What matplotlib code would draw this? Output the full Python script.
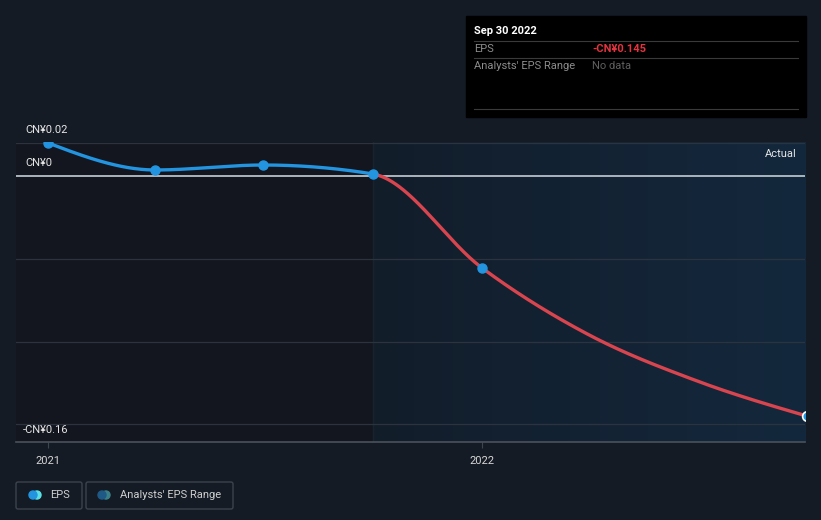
import matplotlib.pyplot as plt
import matplotlib.patches as mpatches
import numpy as np
from matplotlib.colors import LinearSegmentedColormap

plt.rcParams['font.family'] = ['Roboto', 'DejaVu Sans']

# quarter ends as decimal years
fechas = [2021.0, 2021.247, 2021.496, 2021.748, 2022.0, 2022.247, 2022.496, 2022.748]
eps = [0.0199, 0.0036, 0.0066, 0.0012, -0.0556, -0.0961, -0.1239, -0.145]
con_marcador = [True, True, True, True, True, False, False, True]
fecha_hoy = 2021.748
anios = [2021, 2022]
etiquetas_anio = ["2021", "2022"]

W, H = 821, 520
fondo = "#151b25"
azul = "#2394df"
rojo = "#d8454f"


def curva_monotona(x, y, xs):
    # curva suave tipo monotoneX
    x = np.asarray(x, float); y = np.asarray(y, float)
    n = len(x)
    h = np.diff(x)
    s = np.diff(y) / h
    m = np.zeros(n)
    for i in range(1, n - 1):
        p = (s[i - 1] * h[i] + s[i] * h[i - 1]) / (h[i - 1] + h[i])
        m[i] = (np.sign(s[i - 1]) + np.sign(s[i])) * min(abs(s[i - 1]), abs(s[i]), 0.5 * abs(p))
    m[0] = (3 * s[0] - m[1]) / 2
    m[-1] = (3 * s[-1] - m[-2]) / 2
    ys = np.empty_like(xs)
    for k, xv in enumerate(xs):
        i = int(np.clip(np.searchsorted(x, xv, side="right") - 1, 0, n - 2))
        t = (xv - x[i]) / h[i]
        h00 = 2 * t**3 - 3 * t**2 + 1
        h10 = t**3 - 2 * t**2 + t
        h01 = -2 * t**3 + 3 * t**2
        h11 = t**3 - t**2
        ys[k] = h00 * y[i] + h10 * h[i] * m[i] + h01 * y[i + 1] + h11 * h[i] * m[i + 1]
    return ys


fig = plt.figure(figsize=(W / 100, H / 100), dpi=100, facecolor=fondo)

x0, x1 = 16, 805
y0, y1 = 142, 442
ax = fig.add_axes([x0 / W, 1 - y1 / H, (x1 - x0) / W, (y1 - y0) / H])
ax.set_facecolor("#13161e")
xmin, xmax = 2020.926, 2022.744
ymin, ymax = -0.1607, 0.0205
ax.set_xlim(xmin, xmax)
ax.set_ylim(ymin, ymax)

# zona de "Actual" con degradado
grad = np.linspace(0, 1, 200).reshape(1, -1)
cmap = LinearSegmentedColormap.from_list("zona", ["#121d2a", "#14283d"])
ax.imshow(grad, extent=[fecha_hoy, xmax, ymin, ymax], aspect="auto", cmap=cmap, zorder=0)
ax.axvline(fecha_hoy, color="#18232f", lw=1, zorder=1)

for g in [0.02, -0.05, -0.10, -0.15]:
    ax.axhline(g, color="#2b333e", lw=0.9, zorder=1)
ax.axhline(0, color="#b8c0c8", lw=1.3, zorder=2)

xs = np.linspace(fechas[0], fechas[-1], 800)
ys = curva_monotona(fechas, eps, xs)
pasado = xs <= fecha_hoy
ax.plot(xs[pasado], ys[pasado], color=azul, lw=2.4, solid_capstyle="round", zorder=3)
ax.plot(xs[~pasado], ys[~pasado], color=rojo, lw=2.4, solid_capstyle="round", zorder=3)

fx = [f for f, m in zip(fechas, con_marcador) if m]
fy = [v for v, m in zip(eps, con_marcador) if m]
ax.plot(fx[:-1], fy[:-1], "o", color=azul, ms=6.5, zorder=4)
ax.plot(fx[-1], fy[-1], "o", color=azul, ms=7, mec="white", mew=1.2, zorder=5)

ax.set_xticks(anios)
ax.set_xticklabels(etiquetas_anio)
ax.set_yticks([])
ax.tick_params(axis="x", colors="#3d4550", labelcolor="#d6d6d6", labelsize=8, length=4, pad=6)
for s in ["top", "right", "left"]:
    ax.spines[s].set_visible(False)
ax.spines["bottom"].set_color("#4a525c")
ax.spines["bottom"].set_linewidth(1.2)

# capa de texto en pixeles
ov = fig.add_axes([0, 0, 1, 1], facecolor="none")
ov.set_xlim(0, W)
ov.set_ylim(H, 0)
ov.axis("off")

ov.text(25, 130, "CN¥0.02", color="#e6e6e6", fontsize=8, va="center")
ov.text(25, 163, "CN¥0", color="#e6e6e6", fontsize=8, va="center")
ov.text(23, 430, "-CN¥0.16", color="#e6e6e6", fontsize=8, va="center")
ov.text(797, 154, "Actual", color="#e6e6e6", fontsize=8, va="center", ha="right")

# tooltip
ov.add_patch(mpatches.Rectangle((466, 16), 340, 101, color="black", zorder=1))
ov.text(474, 31, "Sep 30 2022", color="white", fontsize=8, fontweight="bold", va="center", zorder=2)
for yl in [41, 58, 109]:
    ov.plot([474, 798], [yl, yl], color="#3a3a3a", lw=0.8, zorder=2)
ov.text(474, 49, "EPS", color="#8c8c8c", fontsize=8, va="center", zorder=2)
ov.text(592, 49, "-CN¥0.145", color="#e3343f", fontsize=8, fontweight="bold", va="center", zorder=2)
ov.text(474, 66, "Analysts' EPS Range", color="#8c8c8c", fontsize=8, va="center", zorder=2)
ov.text(592, 66, "No data", color="#5f5f5f", fontsize=8, va="center", zorder=2)

# leyenda
for (bx, bw) in [(16, 66), (86, 147)]:
    ov.add_patch(mpatches.FancyBboxPatch((bx, 482), bw, 27, boxstyle="round,pad=0,rounding_size=2",
                                         fc="none", ec="#3c434d", lw=1))
ov.add_patch(mpatches.Circle((37, 495), 4, color="#5ce0e6"))
ov.add_patch(mpatches.Circle((33, 495), 4, color=azul))
ov.text(50, 495, "EPS", color="#cfcfcf", fontsize=8, va="center")
ov.add_patch(mpatches.Circle((106, 495), 4, color="#3b8088"))
ov.add_patch(mpatches.Circle((102, 495), 4, color="#1f5a86"))
ov.text(120, 495, "Analysts' EPS Range", color="#cfcfcf", fontsize=8, va="center")

fig.savefig("out.png", dpi=100, facecolor=fondo)
